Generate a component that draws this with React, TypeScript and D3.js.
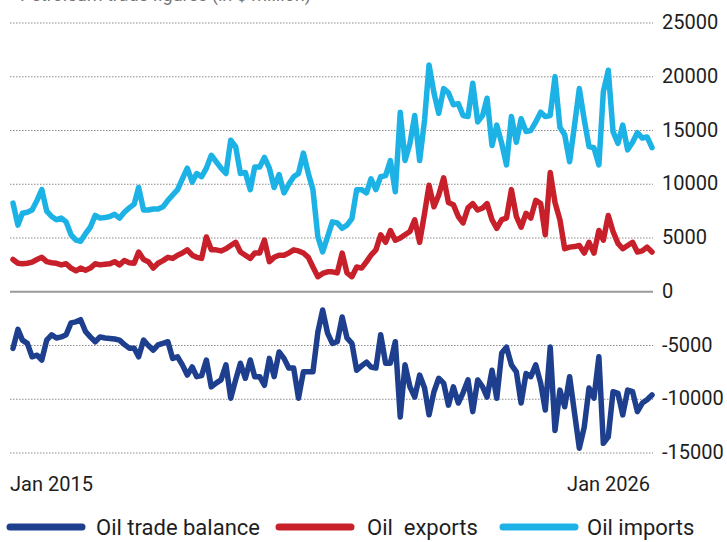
import React from "react";
import * as d3 from "d3";

const START = new Date(2015, 0, 1);

const oilImports = [
  8250, 6200, 7300, 7400, 7600, 8500, 9500, 7500, 7000, 6700, 6850, 6500, 5300, 4800, 4700, 5400,
  6000, 7100, 6850, 6900, 7000, 7200, 6850, 7400, 7800, 8150, 9700, 7600, 7600, 7700, 7700, 7900,
  8500, 9000, 9500, 10500, 11500, 10200, 11000, 10700, 11500, 12700, 12100, 11500, 11000, 14100, 13500, 11000,
  11100, 9500, 11600, 11600, 12500, 11500, 9700, 10900, 9200, 10000, 10700, 11000, 12900, 11000, 9500, 5100,
  3700, 5100, 6500, 6400, 5900, 6200, 6800, 9500, 9500, 9200, 10500, 9500, 10700, 10800, 12200, 9300,
  16700, 12200, 13800, 16400, 12200, 16000, 21100, 18500, 16600, 18900, 18500, 17400, 17500, 16400, 16300, 19400,
  15800, 16400, 18000, 13600, 15500, 13800, 11800, 16300, 13900, 16100, 14900, 15000, 15800, 16700, 16300, 16400,
  20000, 15300, 14600, 12100, 15500, 18900, 16000, 13500, 13400, 11800, 18600, 20600, 14900, 13800, 15500, 13200,
  13900, 14800, 14300, 14400, 13400,
];

const oilExports = [
  3000, 2650, 2600, 2650, 2750, 3000, 3200, 2800, 2700, 2650, 2500, 2600, 2200, 1950, 2200, 2000,
  2200, 2600, 2500, 2550, 2600, 2800, 2500, 2900, 2700, 2650, 3700, 3000, 2800, 2200, 2650, 2900,
  3200, 3100, 3400, 3600, 3900, 3400, 3200, 3100, 5100, 3900, 3900, 3800, 4000, 4300, 4600, 3700,
  3400, 3100, 3600, 3600, 4800, 2800, 3200, 3400, 3400, 3600, 3900, 3800, 3600, 3200, 2300, 1400,
  1700, 1850, 1850, 1750, 3600, 1750, 1400, 2300, 2200, 2800, 3400, 3900, 5300, 4600, 5700, 4800,
  5000, 5300, 5600, 6700, 4600, 7300, 9900, 7900, 9000, 10600, 8300, 8100, 7000, 6400, 7800, 8200,
  7600, 7800, 8200, 6700, 5900, 6700, 6850, 9500, 7000, 6000, 7300, 6850, 8500, 8200, 5300, 11100,
  8300, 6700, 4000, 4150, 4200, 4300, 3600, 4600, 3600, 5700, 4800, 7100, 5600, 4500, 4000, 4300,
  4600, 3700, 3800, 4150, 3700,
];

const oilBalance = [
  -5270, -3500, -4500, -4800, -6050, -5900, -6350, -4500, -4000, -4300, -4200, -4000, -2900, -2800, -2600, -3700,
  -4200, -4650, -4200, -4300, -4350, -4400, -4500, -4900, -5250, -5250, -6050, -4500, -5000, -5430, -4950, -4800,
  -4650, -6200, -6050, -6800, -7750, -7000, -7900, -7800, -6350, -8850, -8500, -8200, -6800, -9900, -8200, -6650,
  -8050, -6350, -7900, -7900, -8700, -6200, -7900, -5600, -6200, -7100, -7100, -9900, -7450, -7450, -7450, -3750,
  -1700, -3850, -4800, -4650, -2350, -4300, -4800, -7300, -6900, -6550, -7000, -7100, -4000, -6650, -6650, -4650,
  -11650, -6800, -8850, -9800, -7750, -8950, -11450, -9300, -8050, -8500, -10550, -8850, -10350, -9400, -8200, -11150,
  -8200, -8850, -9800, -7300, -9900, -5700, -5150, -6800, -7450, -10350, -7600, -7900, -6800, -8500, -11000, -5150,
  -12900, -9150, -10700, -7900, -11300, -14550, -12600, -8950, -9900, -6050, -14100, -13500, -9300, -9450, -11450, -9150,
  -9300, -11150, -10350, -10050, -9600,
];

const months = oilImports.map((_, i) => new Date(START.getFullYear(), START.getMonth() + i, 1));

const yTicks = [25000, 20000, 15000, 10000, 5000, 0, -5000, -10000, -15000];
const xLabels = ["Jan 2015", "Jan 2026"];
const seriesNames = ["Oil trade balance", "Oil  exports", "Oil imports"];
const seriesColors = ["#1d3f8e", "#c8202b", "#1cb2e6"];

const W = 727;
const H = 542;
const FONT = "Roboto, 'Liberation Sans', Arial, sans-serif";

export default function App() {
  const x = d3.scaleTime().domain([months[0], months[months.length - 1]]).range([13, 652]);
  const y = d3.scaleLinear().domain([-15000, 25000]).range([453, 23]);
  const line = d3
    .line<number>()
    .x((_, i) => x(months[i]))
    .y((d) => y(d));

  const series = [oilBalance, oilExports, oilImports];
  const drawOrder = [2, 1, 0];

  const legendSwatchX = [10, 279, 503];
  const legendTextX = [96, 367, 587];

  return (
    <div style={{ position: "fixed", left: 0, top: 0, width: W, height: H, background: "#fff" }}>
      <svg width={W} height={H} style={{ display: "block" }} fontFamily={FONT}>
        <rect x={0} y={0} width={W} height={H} fill="#fff" />
        <text x={20} y={1} fontSize={18} fill="#777">
          Petroleum trade figures (in $ million)
        </text>
        {yTicks.map((t) => (
          <g key={t}>
            <line
              x1={10}
              x2={653}
              y1={y(t)}
              y2={y(t)}
              stroke={t === 0 ? "#9a9a9a" : "#8a8a8a"}
              strokeWidth={t === 0 ? 2 : 1}
              strokeDasharray={t === 0 ? undefined : "1.5,1.5"}
            />
            <text x={662} y={y(t)} dy="0.3em" fontSize={20} fill="#1e1e1e">
              {t}
            </text>
          </g>
        ))}
        {drawOrder.map((k) => (
          <path
            key={k}
            d={line(series[k]) || ""}
            fill="none"
            stroke={seriesColors[k]}
            strokeWidth={5.5}
            strokeLinejoin="round"
            strokeLinecap="round"
          />
        ))}
        <text x={10} y={491} fontSize={20} fill="#1e1e1e">
          {xLabels[0]}
        </text>
        <text x={650} y={491} fontSize={20} fill="#1e1e1e" textAnchor="end">
          {xLabels[1]}
        </text>
        {seriesNames.map((n, k) => (
          <g key={n}>
            <line
              x1={legendSwatchX[k]}
              x2={legendSwatchX[k] + 72}
              y1={527}
              y2={527}
              stroke={seriesColors[k]}
              strokeWidth={7}
              strokeLinecap="round"
            />
            <text x={legendTextX[k]} y={535} fontSize={22} fill="#1e1e1e" style={{ whiteSpace: "pre" }}>
              {n}
            </text>
          </g>
        ))}
      </svg>
    </div>
  );
}
